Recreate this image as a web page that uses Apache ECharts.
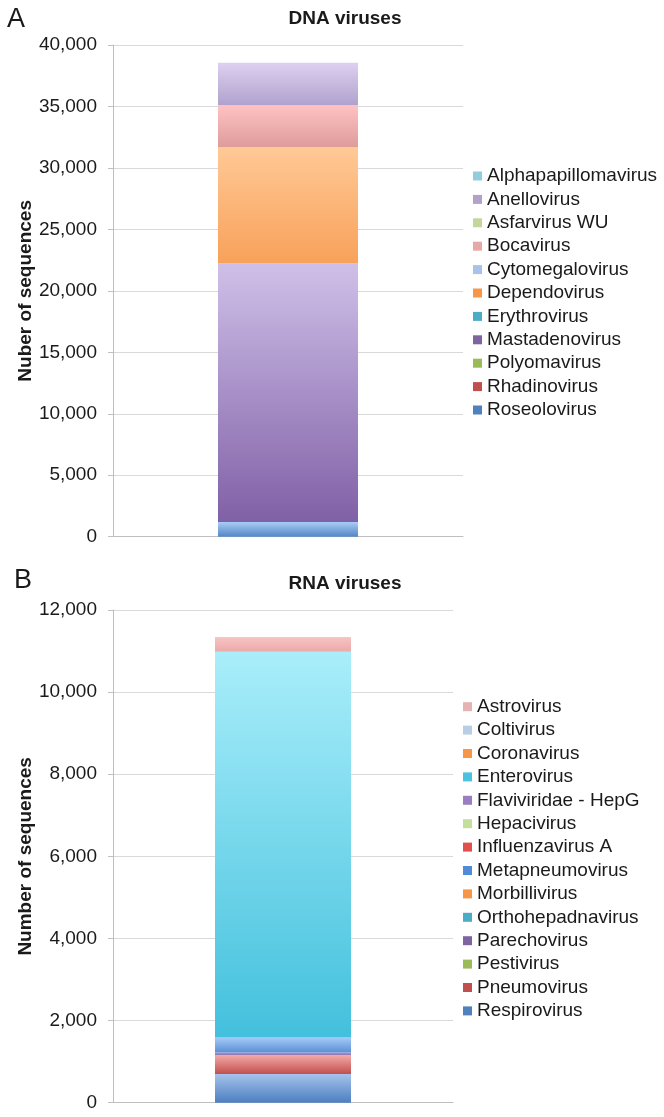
<!DOCTYPE html>
<html>
<head>
<meta charset="utf-8">
<script src="https://cdn.jsdelivr.net/npm/echarts@6/dist/echarts.min.js"></script>
<style>
html,body{margin:0;padding:0;background:#fff;}
#chart{width:664px;height:1117px;}
</style>
</head>
<body>
<div id="chart"></div>
<script>
// ---------- DATA ----------
const dnaCategory = ['DNA viruses'];
const dnaNames = ['Alphapapillomavirus','Anellovirus','Asfarvirus WU','Bocavirus','Cytomegalovirus','Dependovirus','Erythrovirus','Mastadenovirus','Polyomavirus','Rhadinovirus','Roseolovirus'];
const dnaValues = [0, 3450, 0, 3400, 0, 9470, 0, 21030, 0, 0, 1200];
const dnaAxis = {min: 0, max: 40000, interval: 5000};

const rnaCategory = ['RNA viruses'];
const rnaNames = ['Astrovirus','Coltivirus','Coronavirus','Enterovirus','Flaviviridae - HepG','Hepacivirus','Influenzavirus A','Metapneumovirus','Morbillivirus','Orthohepadnavirus','Parechovirus','Pestivirus','Pneumovirus','Respirovirus'];
const rnaValues = [360, 0, 0, 9400, 0, 0, 0, 365, 0, 0, 60, 0, 460, 700];
const rnaAxis = {min: 0, max: 12000, interval: 2000};

// ---------- STYLES ----------
// [legend colour, gradient top, gradient bottom]
const dnaColors = {
  'Alphapapillomavirus': ['#93CDDD', '#C5EDF6', '#86C6D8'],
  'Anellovirus':         ['#B3A2C7', '#DDD0F0', '#B0A2CE'],
  'Asfarvirus WU':       ['#C3D69B', '#E0EEC5', '#B5CC86'],
  'Bocavirus':           ['#E6A9A8', '#FFC2C2', '#DE9C9B'],
  'Cytomegalovirus':     ['#A9C3E6', '#D3E3F6', '#9DB8E0'],
  'Dependovirus':        ['#F79646', '#FFC996', '#F8A15A'],
  'Erythrovirus':        ['#4BACC6', '#9EDDEC', '#3FA3BE'],
  'Mastadenovirus':      ['#8064A2', '#CFC0E8', '#8060A6'],
  'Polyomavirus':        ['#9BBB59', '#CFE3A6', '#8FB24C'],
  'Rhadinovirus':        ['#C0504D', '#EFA6A4', '#C24F4D'],
  'Roseolovirus':        ['#4F81BD', '#A9CDF7', '#5485C4']
};
const rnaColors = {
  'Astrovirus':          ['#E6B3B2', '#F8C4C4', '#ECA9A9'],
  'Coltivirus':          ['#B9CDE5', '#D8E6F6', '#AFC6E4'],
  'Coronavirus':         ['#F79646', '#FFC996', '#F8A15A'],
  'Enterovirus':         ['#4BC3DE', '#A9EEFA', '#43C0DD'],
  'Flaviviridae - HepG': ['#9A7FC0', '#CFC0E8', '#8C6DB3'],
  'Hepacivirus':         ['#C3DF9B', '#E0EEC5', '#B5CC86'],
  'Influenzavirus A':    ['#E0514E', '#F3AAA9', '#D9504D'],
  'Metapneumovirus':     ['#4F8BD6', '#A5CBF6', '#5A8ED6'],
  'Morbillivirus':       ['#F79646', '#FFC996', '#F8A15A'],
  'Orthohepadnavirus':   ['#4BACC6', '#9EDDEC', '#3FA3BE'],
  'Parechovirus':        ['#8064A2', '#A894C6', '#8E76B2'],
  'Pestivirus':          ['#9BBB59', '#CFE3A6', '#8FB24C'],
  'Pneumovirus':         ['#C0504D', '#F3AAA9', '#C24F4D'],
  'Respirovirus':        ['#4F81BD', '#A5C3EC', '#4C7FC0']
};

const FONT = '"Liberation Sans", Arial, Helvetica, sans-serif';
const TXT = '#1a1a1a';

function grad(c) {
  return {type: 'linear', x: 0, y: 0, x2: 0, y2: 1,
          colorStops: [{offset: 0, color: c[1]}, {offset: 1, color: c[2]}]};
}

function buildSeries(names, values, colors, idx, stackId) {
  const out = [];
  // first legend entry is on top of the stack -> add in reverse order
  for (let i = names.length - 1; i >= 0; i--) {
    out.push({
      name: names[i], type: 'bar', stack: stackId,
      xAxisIndex: idx, yAxisIndex: idx, barWidth: '40%',
      data: [values[i]],
      itemStyle: {color: grad(colors[names[i]])},
      emphasis: {disabled: true}
    });
  }
  return out;
}

function legendData(names, colors) {
  return names.map(n => ({name: n, icon: 'rect', itemStyle: {color: colors[n][0]}}));
}

function yAxis(idx, ax, name) {
  return {
    type: 'value', gridIndex: idx, min: ax.min, max: ax.max, interval: ax.interval,
    name: name, nameLocation: 'middle', nameGap: 78, nameRotate: 90,
    nameMoveOverlap: false,
    nameTextStyle: {fontFamily: FONT, fontSize: 19, fontWeight: 'bold', color: TXT},
    axisLine: {show: true, lineStyle: {color: '#BFBFBF', width: 1}},
    axisTick: {show: true, length: 5, lineStyle: {color: '#BFBFBF'}},
    splitLine: {show: true, lineStyle: {color: '#D9D9D9', width: 1}},
    axisLabel: {fontFamily: FONT, fontSize: 19, color: TXT, margin: 16,
      formatter: v => v.toLocaleString('en-US')}
  };
}

function xAxis(idx, cats) {
  return {
    type: 'category', gridIndex: idx, data: cats,
    axisLine: {show: true, lineStyle: {color: '#BFBFBF'}},
    axisTick: {show: false}, axisLabel: {show: false}
  };
}

function legend(left, top, names, colors) {
  return {
    orient: 'vertical', left: left, top: top, padding: 0,
    itemWidth: 9, itemHeight: 9, itemGap: 3.4, selectedMode: false,
    textStyle: {fontFamily: FONT, fontSize: 19, color: TXT, lineHeight: 20},
    data: legendData(names, colors)
  };
}

const chart = echarts.init(document.getElementById('chart'), null, {renderer: 'canvas'});
chart.setOption({
  animation: false,
  backgroundColor: '#fff',
  title: [
    {text: 'DNA viruses', left: 345, top: 9, padding: 0, textAlign: 'center',
     textStyle: {fontFamily: FONT, fontSize: 19, fontWeight: 'bold', color: TXT}},
    {text: 'RNA viruses', left: 345, top: 574, padding: 0, textAlign: 'center',
     textStyle: {fontFamily: FONT, fontSize: 19, fontWeight: 'bold', color: TXT}},
    {text: 'A', left: 7, top: 6, padding: 0,
     textStyle: {fontFamily: FONT, fontSize: 27, fontWeight: 'normal', color: TXT}},
    {text: 'B', left: 14, top: 567, padding: 0,
     textStyle: {fontFamily: FONT, fontSize: 27, fontWeight: 'normal', color: TXT}}
  ],
  grid: [
    {left: 113, right: 201, top: 45, height: 491.7, containLabel: false},
    {left: 113, right: 211, top: 610, height: 492.7, containLabel: false}
  ],
  xAxis: [xAxis(0, dnaCategory), xAxis(1, rnaCategory)],
  yAxis: [yAxis(0, dnaAxis, 'Nuber of sequences'), yAxis(1, rnaAxis, 'Number of sequences')],
  legend: [
    legend(473, 166, dnaNames, dnaColors),
    legend(463, 696.7, rnaNames, rnaColors)
  ],
  series: [].concat(
    buildSeries(dnaNames, dnaValues, dnaColors, 0, 'dna'),
    buildSeries(rnaNames, rnaValues, rnaColors, 1, 'rna')
  )
});
</script>
</body>
</html>
